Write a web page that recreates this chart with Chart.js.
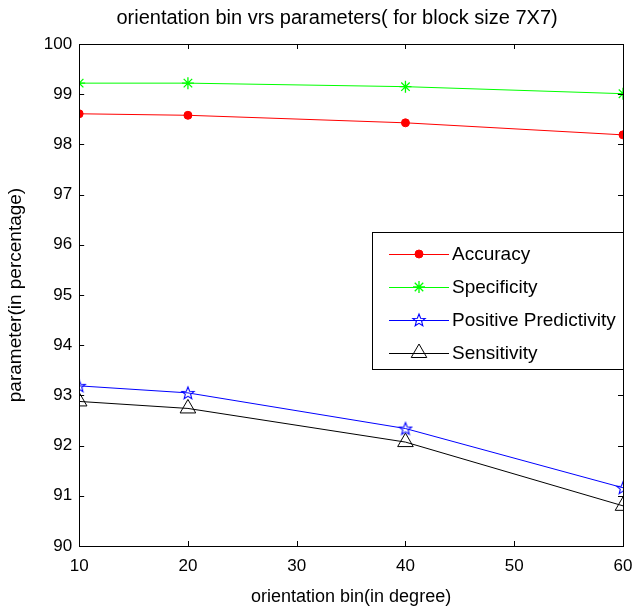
<!DOCTYPE html>
<html>
<head>
<meta charset="utf-8">
<script src="https://cdn.jsdelivr.net/npm/chart.js@4.4.1/dist/chart.umd.min.js"></script>
<style>
  html, body { margin: 0; padding: 0; background: #fff; }
  #wrap { width: 635px; height: 610px; }
</style>
</head>
<body>
<div id="wrap"><canvas id="chart" width="635" height="610"></canvas></div>
<script>
const bins = [10, 20, 40, 60];
const accuracy = [98.61, 98.58, 98.43, 98.19];
const specificity = [99.22, 99.22, 99.15, 99.01];
const positivePredictivity = [93.19, 93.05, 92.34, 91.16];
const sensitivity = [92.88, 92.74, 92.07, 90.8];
const xTicks = [10, 20, 30, 40, 50, 60];
const yTicks = [90, 91, 92, 93, 94, 95, 96, 97, 98, 99, 100];

const FONT = "'Liberation Sans', Arial, sans-serif";

// outlined 5-point star used as the marker for Positive Predictivity
function makeStar(color) {
  const c = document.createElement("canvas");
  c.width = 16; c.height = 16;
  const g = c.getContext("2d");
  g.strokeStyle = color;
  g.lineWidth = 1.1;
  g.beginPath();
  for (let i = 0; i < 10; i++) {
    const r = i % 2 === 0 ? 6.5 : 2.8;
    const a = -Math.PI / 2 + i * Math.PI / 5;
    const px = 8 + r * Math.cos(a), py = 8.5 + r * Math.sin(a);
    if (i === 0) g.moveTo(px, py); else g.lineTo(px, py);
  }
  g.closePath();
  g.stroke();
  return c;
}
const blueStar = makeStar("#0000ff");

function pts(values) {
  return values.map((v, i) => ({ x: bins[i], y: v }));
}

const datasets = [
  {
    label: "Accuracy", data: pts(accuracy),
    borderColor: "#ff0000", backgroundColor: "#ff0000",
    pointStyle: "circle", pointRadius: 4, pointBorderWidth: 1,
  },
  {
    label: "Specificity", data: pts(specificity),
    borderColor: "#00ff00", backgroundColor: "#00ff00",
    pointStyle: "star", pointRadius: 6, pointBorderWidth: 1.3,
  },
  {
    label: "Positive Predictivity", data: pts(positivePredictivity),
    borderColor: "#0000ff", backgroundColor: "#0000ff",
    pointStyle: blueStar, pointRadius: 7,
  },
  {
    label: "Sensitivity", data: pts(sensitivity),
    borderColor: "#000000", backgroundColor: "rgba(0,0,0,0)",
    pointStyle: "triangle", pointRadius: 9, pointBorderWidth: 1,
  },
];
datasets.forEach((d) => { d.borderWidth = 1; d.tension = 0; d.fill = false; });

// box, inward ticks, title and the legend inside the plot
const framePlugin = {
  id: "frame",
  afterDraw(chart) {
    const ctx = chart.ctx;
    const a = chart.chartArea;
    const xs = chart.scales.x, ys = chart.scales.y;
    ctx.save();
    ctx.strokeStyle = "#000";
    ctx.lineWidth = 1;
    ctx.strokeRect(Math.round(a.left) + 0.5, Math.round(a.top) + 0.5,
      Math.round(a.right - a.left), Math.round(a.bottom - a.top));
    ctx.beginPath();
    xTicks.forEach((t) => {
      const x = Math.round(xs.getPixelForValue(t)) + 0.5;
      ctx.moveTo(x, a.bottom); ctx.lineTo(x, a.bottom - 5);
      ctx.moveTo(x, a.top); ctx.lineTo(x, a.top + 5);
    });
    yTicks.forEach((t) => {
      const y = Math.round(ys.getPixelForValue(t)) + 0.5;
      ctx.moveTo(a.left, y); ctx.lineTo(a.left + 5, y);
      ctx.moveTo(a.right, y); ctx.lineTo(a.right - 5, y);
    });
    ctx.stroke();

    ctx.fillStyle = "#000";
    ctx.font = "20px " + FONT;
    ctx.textAlign = "center";
    ctx.textBaseline = "middle";
    ctx.fillText("orientation bin vrs parameters( for block size 7X7)",
      (a.left + a.right) / 2 - 14, 18);

    // legend
    const lx = a.right - 251, ly = 232, lw = 251, lh = 137;
    ctx.fillStyle = "#fff";
    ctx.fillRect(lx, ly, lw, lh);
    ctx.strokeRect(Math.round(lx) + 0.5, ly + 0.5, lw, lh);
    chart.data.datasets.forEach((d, i) => {
      const y = ly + 22 + i * 33;
      ctx.strokeStyle = d.borderColor;
      ctx.lineWidth = 1;
      ctx.beginPath();
      ctx.moveTo(lx + 17, y + 0.5); ctx.lineTo(lx + 77, y + 0.5);
      ctx.stroke();
      ctx.fillStyle = d.backgroundColor;
      ctx.strokeStyle = d.borderColor;
      ctx.lineWidth = d.pointBorderWidth || 1;
      Chart.helpers.drawPoint(ctx, {
        pointStyle: d.pointStyle, radius: d.pointRadius, borderWidth: d.pointBorderWidth || 1,
        rotation: 0,
      }, lx + 47, y);
      ctx.fillStyle = "#000";
      ctx.textAlign = "left";
      ctx.font = "19px " + FONT;
      ctx.fillText(d.label, lx + 80, y + 1);
    });
    ctx.restore();
  },
};

new Chart(document.getElementById("chart").getContext("2d"), {
  type: "line",
  data: { datasets },
  options: {
    responsive: false,
    animation: false,
    layout: { padding: { top: 44, right: 12, left: 0, bottom: 0 } },
    plugins: { legend: { display: false }, title: { display: false }, tooltip: { enabled: false } },
    scales: {
      x: {
        type: "linear", min: 10, max: 60,
        afterBuildTicks: (s) => { s.ticks = xTicks.map((v) => ({ value: v })); },
        afterFit: (s) => { s.paddingRight = 0; },
        grid: { display: false, drawTicks: false },
        border: { display: false },
        ticks: { color: "#000", font: { family: FONT, size: 17 }, padding: 10 },
        title: {
          display: true, text: "orientation bin(in degree)", color: "#000",
          font: { family: FONT, size: 18 }, padding: { top: 0, bottom: 2 },
        },
      },
      y: {
        type: "linear", min: 90, max: 100,
        afterBuildTicks: (s) => { s.ticks = yTicks.map((v) => ({ value: v })); },
        grid: { display: false, drawTicks: false },
        border: { display: false },
        ticks: { color: "#000", font: { family: FONT, size: 17 }, padding: 7 },
        title: {
          display: true, text: "parameter(in percentage)", color: "#000",
          font: { family: FONT, size: 19 }, padding: { top: 4, bottom: 10 },
        },
      },
    },
  },
  plugins: [framePlugin],
});
</script>
</body>
</html>
